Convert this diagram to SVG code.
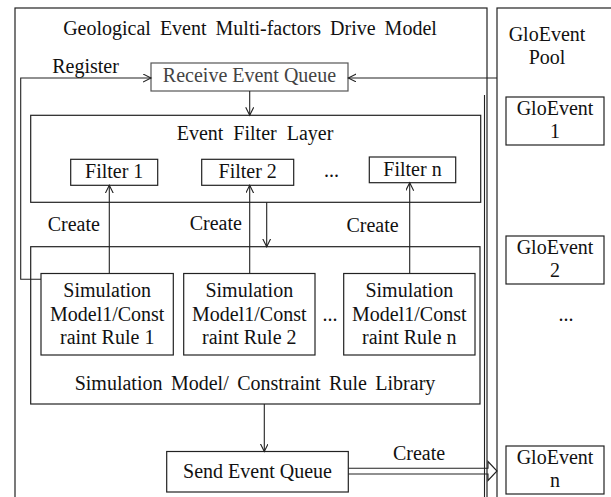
<svg xmlns="http://www.w3.org/2000/svg" width="611" height="497" viewBox="0 0 611 497">
<style>
text{font-family:"Liberation Serif","Times New Roman",serif;font-size:20px;fill:#111;text-anchor:middle}
.box{fill:#fff;stroke:#222;stroke-width:1.2}
.frame{fill:none;stroke:#222;stroke-width:1.2}
.ln{fill:none;stroke:#222;stroke-width:1.1}
.grey{stroke:#555}
.ws{word-spacing:4px}
</style>
<defs>
<marker id="ah" markerWidth="10" markerHeight="10" refX="8" refY="4" orient="auto" markerUnits="userSpaceOnUse">
<path d="M0,0 L8,4 L0,8" fill="none" stroke="#222" stroke-width="1.1"/>
</marker>
</defs>
<rect width="611" height="497" fill="#fff"/>
<g id="drive-model">
<rect class="frame" x="15" y="8" width="472" height="500"/>
<line class="ln" x1="484.5" y1="95" x2="484.5" y2="497"/>
<text x="250" y="35" class="ws">Geological Event Multi-factors Drive Model</text>
</g>
<g id="pool">
<rect class="frame" x="497" y="8" width="130" height="500"/>
<text x="547" y="41">GloEvent</text>
<text x="547" y="64">Pool</text>
<text x="566" y="321">...</text>
</g>
<g id="gloevent1">
<rect class="box" x="506" y="97" width="98" height="48"/>
<text x="555" y="115">GloEvent</text>
<text x="555" y="138">1</text>
</g>
<g id="gloevent2">
<rect class="box" x="506" y="236" width="98" height="48"/>
<text x="555" y="254">GloEvent</text>
<text x="555" y="277">2</text>
</g>
<g id="gloeventn">
<rect class="box" x="506" y="446" width="98" height="48"/>
<text x="555" y="464">GloEvent</text>
<text x="555" y="487">n</text>
</g>
<g id="receive">
<rect class="box grey" x="151" y="63" width="197" height="28"/>
<text x="249.5" y="82" style="fill:#444">Receive Event Queue</text>
</g>
<g id="filter-layer">
<rect class="box" x="30.7" y="115.3" width="450" height="87"/>
<text x="255" y="140" style="word-spacing:5px">Event Filter Layer</text>
<text x="331.5" y="177">...</text>
</g>
<g id="filter1">
<rect class="box" x="70.7" y="159.3" width="87" height="26"/>
<text x="114.2" y="178">Filter 1</text>
</g>
<g id="filter2">
<rect class="box" x="201.7" y="159.3" width="92" height="26"/>
<text x="247.7" y="178">Filter 2</text>
</g>
<g id="filtern">
<rect class="box" x="369.3" y="157" width="86.4" height="25.7"/>
<text x="412.5" y="176">Filter n</text>
</g>
<g id="library">
<rect class="box" x="30.7" y="246.7" width="449.3" height="157.3"/>
<text x="255" y="390" style="word-spacing:3.5px">Simulation Model/ Constraint Rule Library</text>
<text x="330" y="321">...</text>
</g>
<g id="sim1">
<rect class="box" x="41" y="273.5" width="132.3" height="81.5"/>
<text x="107.2" y="296.7">Simulation</text>
<text x="107.2" y="321">Model1/Const</text>
<text x="107.2" y="344.3">raint Rule 1</text>
</g>
<g id="sim2">
<rect class="box" x="183.7" y="273.5" width="131.3" height="81.5"/>
<text x="249.3" y="296.7">Simulation</text>
<text x="249.3" y="321">Model1/Const</text>
<text x="249.3" y="344.3">raint Rule 2</text>
</g>
<g id="simn">
<rect class="box" x="343.7" y="273.5" width="131.3" height="81.5"/>
<text x="409.3" y="296.7">Simulation</text>
<text x="409.3" y="321">Model1/Const</text>
<text x="409.3" y="344.3">raint Rule n</text>
</g>
<g id="send">
<rect class="box" x="166.7" y="451.5" width="181.6" height="40.5"/>
<text x="257.5" y="478">Send Event Queue</text>
</g>
<g id="connectors">
<polyline class="ln" points="41,279.3 20.7,279.3 20.7,78 151,78" marker-end="url(#ah)"/>
<text x="85.5" y="73">Register</text>
<line class="ln" x1="497" y1="78" x2="348.3" y2="78" marker-end="url(#ah)"/>
<line class="ln" x1="249.7" y1="91" x2="249.7" y2="115.3" marker-end="url(#ah)"/>
<line class="ln" x1="109.3" y1="273.5" x2="109.3" y2="185.3" marker-end="url(#ah)"/>
<line class="ln" x1="249.7" y1="273.5" x2="249.7" y2="185.3" marker-end="url(#ah)"/>
<line class="ln" x1="409.7" y1="273.5" x2="409.7" y2="182.7" marker-end="url(#ah)"/>
<line class="ln" x1="266.7" y1="202.3" x2="266.7" y2="246.7" marker-end="url(#ah)"/>
<line class="ln" x1="264.3" y1="404" x2="264.3" y2="451.5" marker-end="url(#ah)"/>
<text x="73.8" y="231">Create</text>
<text x="215.8" y="230">Create</text>
<text x="372.5" y="232">Create</text>
<path class="ln" d="M348.3,468.3 H488 V461.5 L497,471 L488,480.5 V474 H348.3"/>
<text x="419" y="460">Create</text>
</g>
</svg>
